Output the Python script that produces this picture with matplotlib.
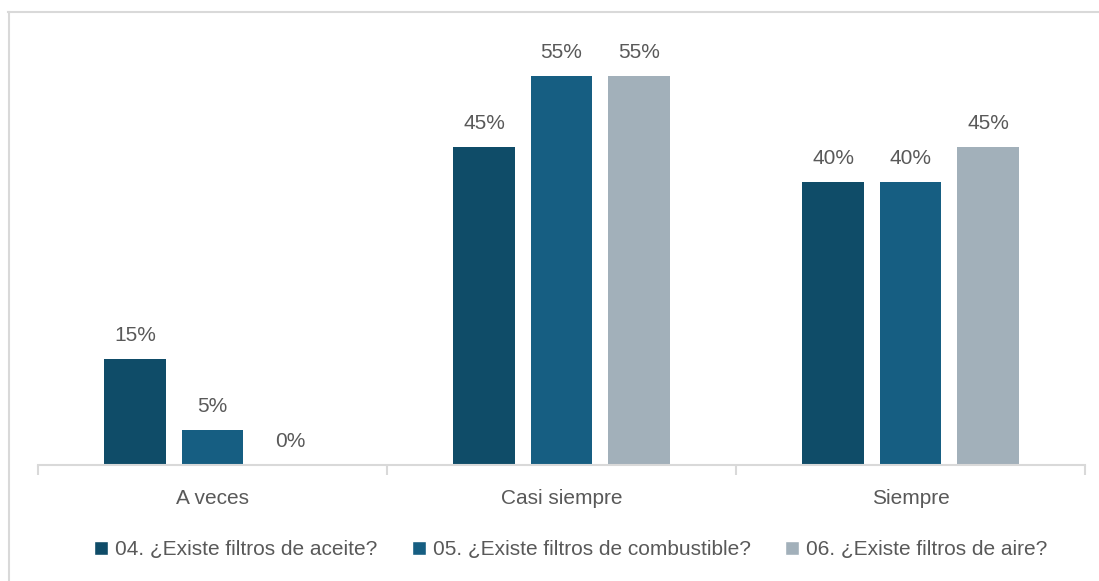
import matplotlib
matplotlib.use("Agg")
import matplotlib.pyplot as plt
import numpy as np
from matplotlib.lines import Line2D

categories = ["A veces", "Casi siempre", "Siempre"]
series_names = ["04. ¿Existe filtros de aceite?",
                "05. ¿Existe filtros de combustible?",
                "06. ¿Existe filtros de aire?"]
aceite = [15, 45, 40]
combustible = [5, 55, 40]
aire = [0, 55, 45]
colors = ["#0F4C68", "#165E82", "#A2B0BA"]

W, H = 1099, 581
fig = plt.figure(figsize=(W/100, H/100), dpi=100)
ax = fig.add_axes([38/W, 1-465/H, (1085-38)/W, (465-41)/H])

x = np.arange(len(categories))
width = 0.175
spacing = 0.222
text_col = "#595959"
num_font = ["Liberation Sans", "DejaVu Sans"]
leg_font = ["Liberation Sans", "DejaVu Sans"]

for i, (vals, col) in enumerate(zip([aceite, combustible, aire], colors)):
    pos = x + (i - 1) * spacing
    ax.bar(pos, vals, width, color=col, label=series_names[i])
    for p, v in zip(pos, vals):
        ax.text(p, v + 2.0, f"{v}%", ha="center", va="bottom", fontsize=15,
                color=text_col, family=num_font)

ax.set_xlim(-0.5, 2.5)
ax.set_ylim(0, 60)
ax.set_yticks([])
for s in ["top", "right", "left"]:
    ax.spines[s].set_visible(False)
ax.spines["bottom"].set_color("#D9D9D9")
ax.spines["bottom"].set_linewidth(1.5)
ax.set_xticks([-0.5, 0.5, 1.5, 2.5], minor=False)
ax.set_xticklabels([])
ax.tick_params(axis="x", which="major", length=7, color="#D9D9D9", width=1.5, direction="out")
ax.set_xticks(x, minor=True)
ax.set_xticklabels(categories, minor=True, fontsize=15, color=text_col, family=num_font)
ax.tick_params(axis="x", which="minor", length=0, pad=17)

handles = [Line2D([0], [0], marker="s", color="w", markerfacecolor=c, markersize=10, linestyle="None")
           for c in colors]
fig.legend(handles, series_names, loc="center", bbox_to_anchor=(566/W, 1-550/H), ncol=3,
           frameon=False, handletextpad=-0.15, handlelength=1.6, columnspacing=1.2,
           prop={"family": leg_font, "size": 15}, labelcolor=text_col)

# chart border
fig.add_artist(Line2D([8/W, 1], [1-12/H, 1-12/H], color="#D9D9D9", lw=1.5, transform=fig.transFigure))
fig.add_artist(Line2D([9/W, 9/W], [0, 1-12/H], color="#D9D9D9", lw=1.5, transform=fig.transFigure))

fig.savefig("out.png", dpi=100)
